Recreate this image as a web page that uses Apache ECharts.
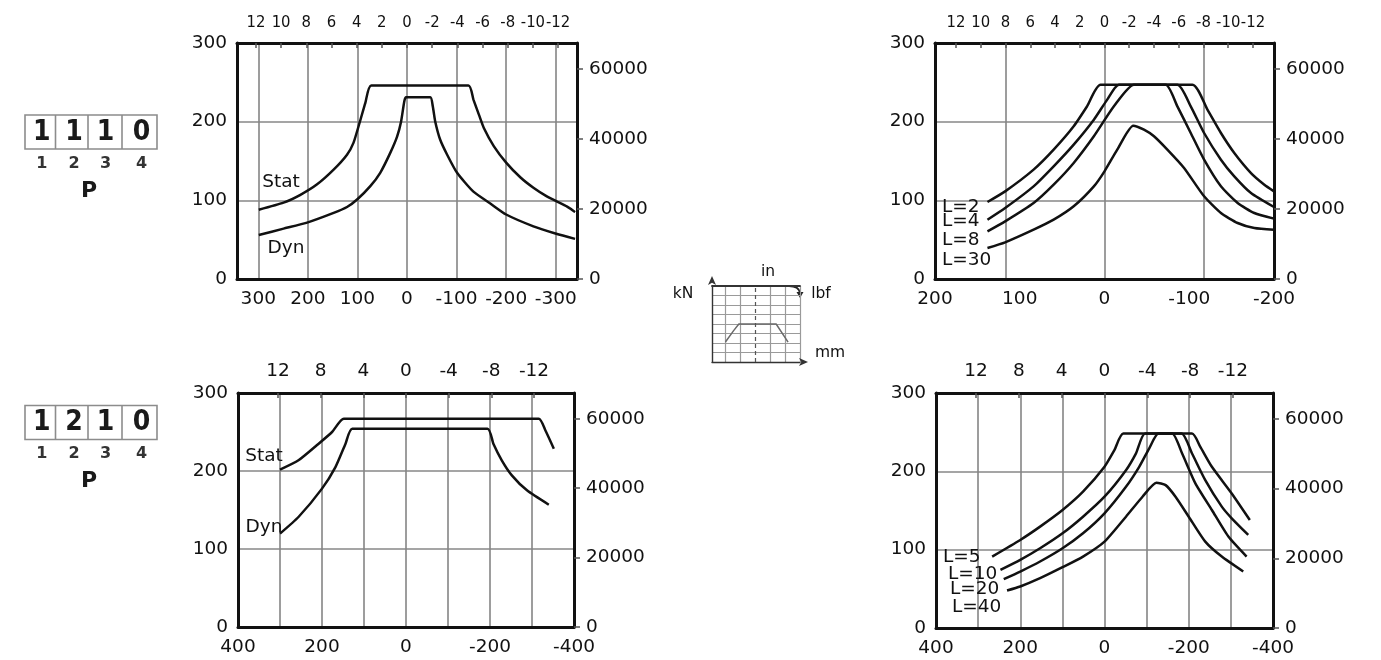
<!DOCTYPE html>
<html>
<head>
<meta charset="utf-8">
<script src="https://cdn.jsdelivr.net/npm/echarts@6/dist/echarts.min.js"></script>
<style>
  html, body { margin: 0; padding: 0; background: #fff; }
  #chart { width: 1381px; height: 660px; }
</style>
</head>
<body>
<div id="chart"></div>
<script>
// ---------- Data (stroke in mm or in, force in kN) ----------

// P 1110 – Stat / Dyn, stroke in mm
const p1110StatMm = [299, 249, 215, 182, 148, 121, 108, 95, 84, 72, -124, -134, -145, -155, -175, -200, -229, -255, -282, -301, -323, -339];
const p1110StatKn = [88, 97, 107, 120, 139, 158, 173, 200, 224, 246, 246, 228, 209, 192, 169, 148, 129, 116, 105, 99, 92, 85];
const p1110DynMm  = [299, 249, 200, 148, 121, 99.5, 74, 54, 34, 20, 12, 5.4, 2, -47, -52, -57, -67, -81, -101, -134, -168, -200, -255, -301, -339];
const p1110DynKn  = [56, 64, 72, 84, 91.5, 101.7, 118, 135, 160, 181, 200, 226, 231, 231, 219.5, 200, 177, 158, 135, 111, 96, 82, 67, 57.6, 51];

// P 1210 – Stat / Dyn, stroke in mm
const p1210StatMm = [300, 256, 208, 176, 148, -316, -332, -352];
const p1210StatKn = [201.7, 213.7, 235, 250, 267, 267, 252, 228.6];
const p1210DynMm  = [300, 256, 200, 168, 144, 128, -194, -208, -228, -252, -288, -340];
const p1210DynKn  = [119.7, 141, 177.4, 205, 235, 254.3, 254.3, 235, 213.7, 194.4, 175.2, 156.8];

// Column lengths L = 2 / 4 / 8 / 30, stroke in inches
const l2In  = [9.46, 8.03, 5.73, 4.11, 2.49, 1.41, 0.32, -7.11, -8.32, -9.41, -10.49, -11.84, -12.92, -13.7];
const l2Kn  = [97.9, 111.4, 139, 164.4, 194.1, 219.5, 247, 247, 215.3, 185.6, 160.2, 134.7, 119.9, 111.4];
const l4In  = [9.46, 8.03, 5.73, 4.11, 2.49, 0.86, -0.22, -1.16, -5.89, -6.97, -8.05, -9.41, -10.49, -11.84, -13.7];
const l4Kn  = [75.4, 90.3, 117.8, 143.2, 170.8, 202.5, 228, 247, 247, 219.5, 185.6, 151.7, 130.5, 109.3, 91.5];
const l8In  = [9.46, 8.03, 5.73, 4.11, 2.49, 0.86, -0.76, -2.38, -4.95, -5.89, -6.97, -8.05, -9.41, -10.76, -12.11, -13.7];
const l8Kn  = [60.6, 73.3, 96.6, 119.9, 147.5, 181.4, 219.5, 247, 247, 219.5, 185.6, 151.7, 117.8, 96.6, 83.9, 76.7];
const l30In = [9.46, 8.03, 5.73, 4.11, 2.49, 0.86, 0, -1.03, -2.32, -3.19, -4, -5.08, -6.43, -8.05, -9.41, -10.76, -12.11, -13.7];
const l30Kn = [39.4, 46.6, 62.7, 75.4, 92.4, 117.8, 136.9, 164.4, 194.9, 189.8, 181.4, 164.4, 141.1, 105.1, 83.9, 71.2, 64.8, 62.7];

// Column lengths L = 5 / 10 / 20 / 40, stroke in mm
const l5Mm  = [266.7, 200, 152.9, 99.6, 51, 0, -23.5, -44.7, -207.8, -227.5, -254.9, -302, -345];
const l5Kn  = [91.2, 112.4, 129.4, 150.6, 174, 205.8, 227, 248.2, 248.2, 231.2, 205.8, 171.8, 137.9];
const l10Mm = [247, 200, 152.9, 99.6, 51, 0, -51, -74.5, -96.5, -182.7, -207.8, -239.2, -278.4, -302, -341.2];
const l10Kn = [74.2, 87, 101.8, 120.9, 142.1, 167.6, 201.5, 222.7, 248.2, 248.2, 222.7, 188.8, 154.9, 140, 118.8];
const l20Mm = [239.2, 200, 152.9, 99.6, 51, 0, -51, -82.4, -105.9, -127.8, -160.8, -184.3, -215.7, -254.9, -294.1, -337.3];
const l20Kn = [62.4, 72.1, 84.9, 101.8, 120.9, 146.4, 180.3, 205.8, 229.1, 248.2, 248.2, 222.7, 184.6, 150.6, 116.7, 91.2];
const l40Mm = [231.4, 200, 152.9, 99.6, 51, 0, -51, -90.2, -123.1, -145.1, -168.6, -200, -239.2, -278.4, -329.4];
const l40Kn = [47.9, 53, 63.6, 77.6, 91.2, 110.3, 142.1, 167.6, 185.4, 182.4, 167.6, 142.1, 110.3, 91.2, 72.1];

// Axis ticks and labels
const mmLabels300 = [-300, -200, -100, 0, 100, 200, 300];
const mmLabels400 = [-400, -200, 0, 200, 400];
const mmLines400  = [-300, -200, -100, 0, 100, 200, 300];
const mmLabels200 = [-200, -100, 0, 100, 200];
const inLabels2   = [-12, -10, -8, -6, -4, -2, 0, 2, 4, 6, 8, 10, 12];
const inLabels4   = [-12, -8, -4, 0, 4, 8, 12];
const inLines8    = [-8, 0, 8];
const lbfLabels   = [0, 20000, 40000, 60000];

// Small legend pictogram (arbitrary units)
const iconCols  = [0.9, 1.9, 3.9, 4.9, 5.9];
const iconRows  = [1, 2, 3, 4, 5, 6, 7];
const iconShapeX = [0.9, 1.45, 1.8, 4.3, 5.1];
const iconShapeY = [2.1, 3.3, 4.0, 4.0, 2.1];
const iconCenter = 2.9;

// Variant codes
const codeTop = ['1', '1', '1', '0'];
const codeBottom = ['1', '2', '1', '0'];
const codePositions = ['1', '2', '3', '4'];

// ---------- Styling helpers ----------
const LBF_PER_KN = 224.809;
const KN_MAX = 300;
const INK = '#111';
const TXT = '#111';
const GRID_V = '#858585';
const GRID_H = '#a5a5a5';
const FONT = "'DejaVu Sans', 'Noto Sans', sans-serif";
const NARROW = "'DejaVu Sans Condensed', 'Liberation Sans Narrow', 'DejaVu Sans', sans-serif";
const FS = 18.5;
const plain = v => String(v);

const frameLine = { show: true, onZero: false, lineStyle: { color: INK, width: 3 } };

function mmAxis(gridIndex, half, labels, lines) {
  return {
    type: 'value', gridIndex, position: 'bottom', inverse: true,
    min: -half, max: half,
    axisLine: frameLine,
    axisTick: { show: false, customValues: lines.length ? lines : labels },
    axisLabel: { customValues: labels, formatter: plain, hideOverlap: false, margin: 11, color: TXT, fontFamily: FONT, fontSize: FS },
    splitLine: { show: lines.length > 0, lineStyle: { color: GRID_V, width: 1.6 } }
  };
}

function inchAxis(gridIndex, half, labels, narrow) {
  return {
    type: 'value', gridIndex, position: 'top', inverse: true,
    min: -half, max: half,
    axisLine: frameLine,
    axisTick: { show: true, inside: true, length: 5, customValues: labels, lineStyle: { color: '#555', width: 1.5 } },
    axisLabel: {
      customValues: labels, formatter: plain, hideOverlap: false, margin: 12, color: TXT,
      fontFamily: narrow ? NARROW : FONT, fontSize: narrow ? 16.5 : FS
    },
    splitLine: { show: false }
  };
}

function gridLineAxis(gridIndex, half, lines) {
  return {
    type: 'value', gridIndex, position: 'top', inverse: true,
    min: -half, max: half,
    axisLine: { show: false, onZero: false },
    axisTick: { show: false, customValues: lines },
    axisLabel: { show: false },
    splitLine: { show: true, lineStyle: { color: GRID_V, width: 1.6 } }
  };
}

function knAxis(gridIndex) {
  return {
    type: 'value', gridIndex, position: 'left', min: 0, max: KN_MAX, interval: 100,
    axisLine: frameLine,
    axisTick: { show: false },
    axisLabel: { formatter: plain, margin: 10, color: TXT, fontFamily: FONT, fontSize: FS },
    splitLine: { show: true, lineStyle: { color: GRID_H, width: 1.8 } }
  };
}

function lbfAxis(gridIndex) {
  return {
    type: 'value', gridIndex, position: 'right', min: 0, max: KN_MAX * LBF_PER_KN,
    axisLine: frameLine,
    axisTick: { show: true, length: 6, customValues: lbfLabels, lineStyle: { color: '#555', width: 1.5 } },
    axisLabel: { customValues: lbfLabels, formatter: plain, margin: 12, color: TXT, fontFamily: FONT, fontSize: FS },
    splitLine: { show: false }
  };
}

function zip(xs, ys) { return xs.map((x, i) => [x, ys[i]]); }

function curve(name, xs, ys, xAxisIndex, yAxisIndex) {
  return {
    name, type: 'line', xAxisIndex, yAxisIndex,
    data: zip(xs, ys),
    showSymbol: false, smooth: 0.2, silent: true,
    lineStyle: { color: INK, width: 2.5 },
    z: 5
  };
}

function txt(text, x, y, opts) {
  return {
    type: 'text', x, y, silent: true, z: 10,
    style: Object.assign({
      text, fill: TXT, fontFamily: FONT, fontSize: FS,
      align: 'center', verticalAlign: 'middle'
    }, opts || {})
  };
}

function codeBox(top, digits) {
  const edges = [25, 55.5, 88, 122, 157];
  const centers = [41.7, 74, 105.5, 141.5];
  const els = [{
    type: 'rect', silent: true,
    shape: { x: edges[0], y: top, width: edges[4] - edges[0], height: 34 },
    style: { fill: 'none', stroke: '#8c8c8c', lineWidth: 1.6 }
  }];
  for (let i = 1; i < 4; i++) {
    els.push({
      type: 'line', silent: true,
      shape: { x1: edges[i], y1: top, x2: edges[i], y2: top + 34 },
      style: { stroke: '#8c8c8c', lineWidth: 1.6 }
    });
  }
  digits.forEach((d, i) => {
    els.push(txt(d, centers[i], top + 17.5, { fontSize: 28, fontWeight: 'bold', fontFamily: NARROW, fill: '#1a1a1a' }));
    els.push(txt(codePositions[i], centers[i], top + 48.5, { fontSize: 16, fontWeight: 'bold', fill: '#333' }));
  });
  els.push(txt('P', 89, top + 76, { fontSize: 22, fontWeight: 'bold', fill: '#1a1a1a' }));
  return els;
}

// ---------- Chart ----------
const chart = echarts.init(document.getElementById('chart'), null, { renderer: 'canvas' });

const halfMm1 = 13.5 * 25.4;       // ±13.5 in expressed in mm
const halfIn1 = 13.5;
const halfMm2 = 400;
const halfIn2 = 400 / 25.4;
const halfIn3 = 13.7;

const option = {
  animation: false,
  backgroundColor: '#fff',
  grid: [
    { left: 237, top: 43, width: 340, height: 236 },
    { left: 238, top: 393, width: 336, height: 234 },
    { left: 935, top: 43, width: 339, height: 236 },
    { left: 936, top: 393, width: 337, height: 235 },
    { left: 712, top: 286, width: 88, height: 76 }
  ],
  xAxis: [
    mmAxis(0, halfMm1, mmLabels300, mmLabels300),          // 0
    inchAxis(0, halfIn1, inLabels2, true),                 // 1
    mmAxis(1, halfMm2, mmLabels400, mmLines400),           // 2
    inchAxis(1, halfIn2, inLabels4, false),                // 3
    mmAxis(2, 200, mmLabels200, []),                       // 4
    inchAxis(2, halfIn3, inLabels2, true),                 // 5
    gridLineAxis(2, halfIn3, inLines8),                    // 6
    mmAxis(3, halfMm2, mmLabels400, mmLines400),           // 7
    inchAxis(3, halfIn2, inLabels4, false),                // 8
    {                                                      // 9 pictogram, bottom
      type: 'value', gridIndex: 4, position: 'bottom', min: 0, max: 5.9,
      axisLine: { show: true, onZero: false, symbol: ['none', 'arrow'], symbolSize: [6, 9], symbolOffset: [0, 8],
                  lineStyle: { color: '#333', width: 1.4 } },
      axisTick: { show: false, customValues: iconCols },
      axisLabel: { show: false },
      splitLine: { show: true, lineStyle: { color: '#9a9a9a', width: 1.2 } }
    },
    {                                                      // 10 pictogram, top
      type: 'value', gridIndex: 4, position: 'top', min: 0, max: 5.9,
      axisLine: { show: true, onZero: false, lineStyle: { color: '#333', width: 1.8 } },
      axisTick: { show: false }, axisLabel: { show: false }, splitLine: { show: false }
    }
  ],
  yAxis: [
    knAxis(0), lbfAxis(0),
    knAxis(1), lbfAxis(1),
    knAxis(2), lbfAxis(2),
    knAxis(3), lbfAxis(3),
    {
      type: 'value', gridIndex: 4, position: 'left', min: 0, max: 8,
      axisLine: { show: true, onZero: false, symbol: ['none', 'arrow'], symbolSize: [6, 9], symbolOffset: [0, 10],
                  lineStyle: { color: '#333', width: 1.4 } },
      axisTick: { show: false, customValues: iconRows },
      axisLabel: { show: false },
      splitLine: { show: true, lineStyle: { color: '#9a9a9a', width: 1.2 } }
    }
  ],
  series: [
    curve('Stat', p1110StatMm, p1110StatKn, 0, 0),
    curve('Dyn', p1110DynMm, p1110DynKn, 0, 0),
    curve('Stat', p1210StatMm, p1210StatKn, 2, 2),
    curve('Dyn', p1210DynMm, p1210DynKn, 2, 2),
    curve('L=2', l2In, l2Kn, 5, 4),
    curve('L=4', l4In, l4Kn, 5, 4),
    curve('L=8', l8In, l8Kn, 5, 4),
    curve('L=30', l30In, l30Kn, 5, 4),
    curve('L=5', l5Mm, l5Kn, 7, 6),
    curve('L=10', l10Mm, l10Kn, 7, 6),
    curve('L=20', l20Mm, l20Kn, 7, 6),
    curve('L=40', l40Mm, l40Kn, 7, 6),
    {
      name: 'shape', type: 'line', xAxisIndex: 9, yAxisIndex: 8,
      data: zip(iconShapeX, iconShapeY), showSymbol: false, silent: true,
      lineStyle: { color: '#6a6a6a', width: 1.5 },
      markLine: {
        silent: true, symbol: ['none', 'none'], label: { show: false },
        lineStyle: { color: '#555', width: 1.2, type: [4, 3] },
        data: [{ xAxis: iconCenter }]
      }
    }
  ],
  graphic: [
    ...codeBox(115, codeTop),
    ...codeBox(405.5, codeBottom),
    txt('Stat', 281, 182, { fontSize: 18.5 }),
    txt('Dyn', 286, 248, { fontSize: 18.5 }),
    txt('Stat', 264, 456, { fontSize: 18.5 }),
    txt('Dyn', 264, 527, { fontSize: 18.5 }),
    txt('L=2', 942, 207, { align: 'left' }),
    txt('L=4', 942, 221, { align: 'left' }),
    txt('L=8', 942, 240, { align: 'left' }),
    txt('L=30', 942, 260, { align: 'left' }),
    txt('L=5', 943, 557, { align: 'left' }),
    txt('L=10', 948, 574.5, { align: 'left' }),
    txt('L=20', 950, 589, { align: 'left' }),
    txt('L=40', 952, 607, { align: 'left' }),
    txt('kN', 683, 294, { fontSize: 15.5 }),
    txt('in', 768, 272, { fontSize: 15.5 }),
    txt('lbf', 821, 294, { fontSize: 15.5 }),
    txt('mm', 830, 353, { fontSize: 15.5 }),
    {
      type: 'bezierCurve', silent: true,
      shape: { x1: 789, y1: 286, x2: 800, y2: 293, cpx1: 799, cpy1: 286 },
      style: { stroke: '#222', lineWidth: 1.8, fill: 'none' }
    },
    {
      type: 'polygon', silent: true,
      shape: { points: [[796.5, 292], [803.5, 292], [800, 298]] },
      style: { fill: '#222' }
    }
  ]
};

chart.setOption(option);
</script>
</body>
</html>
